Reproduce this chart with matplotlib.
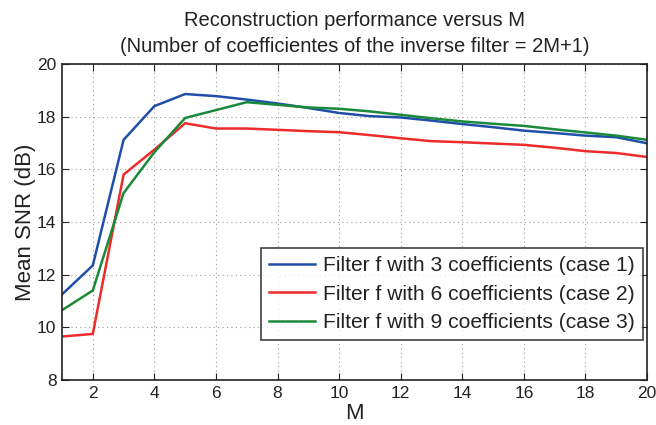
import matplotlib
matplotlib.use("Agg")
import matplotlib.pyplot as plt

M = list(range(1, 21))
snr_case1 = [11.25, 12.35, 17.12, 18.4, 18.86, 18.78, 18.65, 18.5, 18.33, 18.14,
             18.02, 17.97, 17.85, 17.72, 17.6, 17.47, 17.38, 17.28, 17.22, 16.99]
snr_case2 = [9.65, 9.75, 15.8, 16.75, 17.75, 17.55, 17.55, 17.5, 17.45, 17.41,
             17.3, 17.18, 17.07, 17.03, 16.98, 16.93, 16.82, 16.69, 16.62, 16.47]
snr_case3 = [10.65, 11.4, 15.1, 16.65, 17.95, 18.25, 18.55, 18.45, 18.35, 18.3,
             18.2, 18.07, 17.94, 17.82, 17.73, 17.65, 17.52, 17.4, 17.28, 17.12]
labels = ["Filter f with 3 coefficients (case 1)",
          "Filter f with 6 coefficients (case 2)",
          "Filter f with 9 coefficients (case 3)"]
colors = ["#1f4fa8", "#ee2a2a", "#1a8a3a"]
xticks = [2, 4, 6, 8, 10, 12, 14, 16, 18, 20]
yticks = [8, 10, 12, 14, 16, 18, 20]

plt.rcParams['font.family'] = ['Liberation Sans', 'DejaVu Sans']

fig = plt.figure(figsize=(6.56, 4.25), dpi=100)
ax = fig.add_axes([62/656, 1 - 380/425, (647-62)/656, (380-64)/425])

for y, lab, c in zip([snr_case1, snr_case2, snr_case3], labels, colors):
    ax.plot(M, y, color=c, lw=1.8, label=lab)

ax.set_xlim(1, 20)
ax.set_ylim(8, 20)
ax.set_xticks(xticks)
ax.set_yticks(yticks)
ax.tick_params(direction='in', top=True, right=True, labelsize=12.5, length=5, width=0.8,
               colors='#222222', pad=4)
ax.grid(True, linestyle=(0, (1, 3)), color='#999999', lw=0.8)
for s in ax.spines.values():
    s.set_linewidth(1.2)
    s.set_color('#222222')

ax.set_xlabel("M", fontsize=16, labelpad=2, color='#222222')
ax.set_ylabel("Mean SNR (dB)", fontsize=16, labelpad=1, color='#222222')
ax.set_title("Reconstruction performance versus M\n(Number of coefficientes of the inverse filter = 2M+1)",
             fontsize=14.5, color='#222222', pad=9, linespacing=1.4)

leg = ax.legend(loc='lower right', bbox_to_anchor=(643/656, 1 - 340/425),
                bbox_transform=fig.transFigure, fontsize=15.1, frameon=True, fancybox=False,
                borderpad=0.38, handlelength=2.2, handletextpad=0.4, labelspacing=0.45,
                borderaxespad=0)
leg.get_frame().set_edgecolor('#111111')
leg.get_frame().set_linewidth(1.2)
for t in leg.get_texts():
    t.set_color('#222222')

fig.savefig("out.png", dpi=100)
